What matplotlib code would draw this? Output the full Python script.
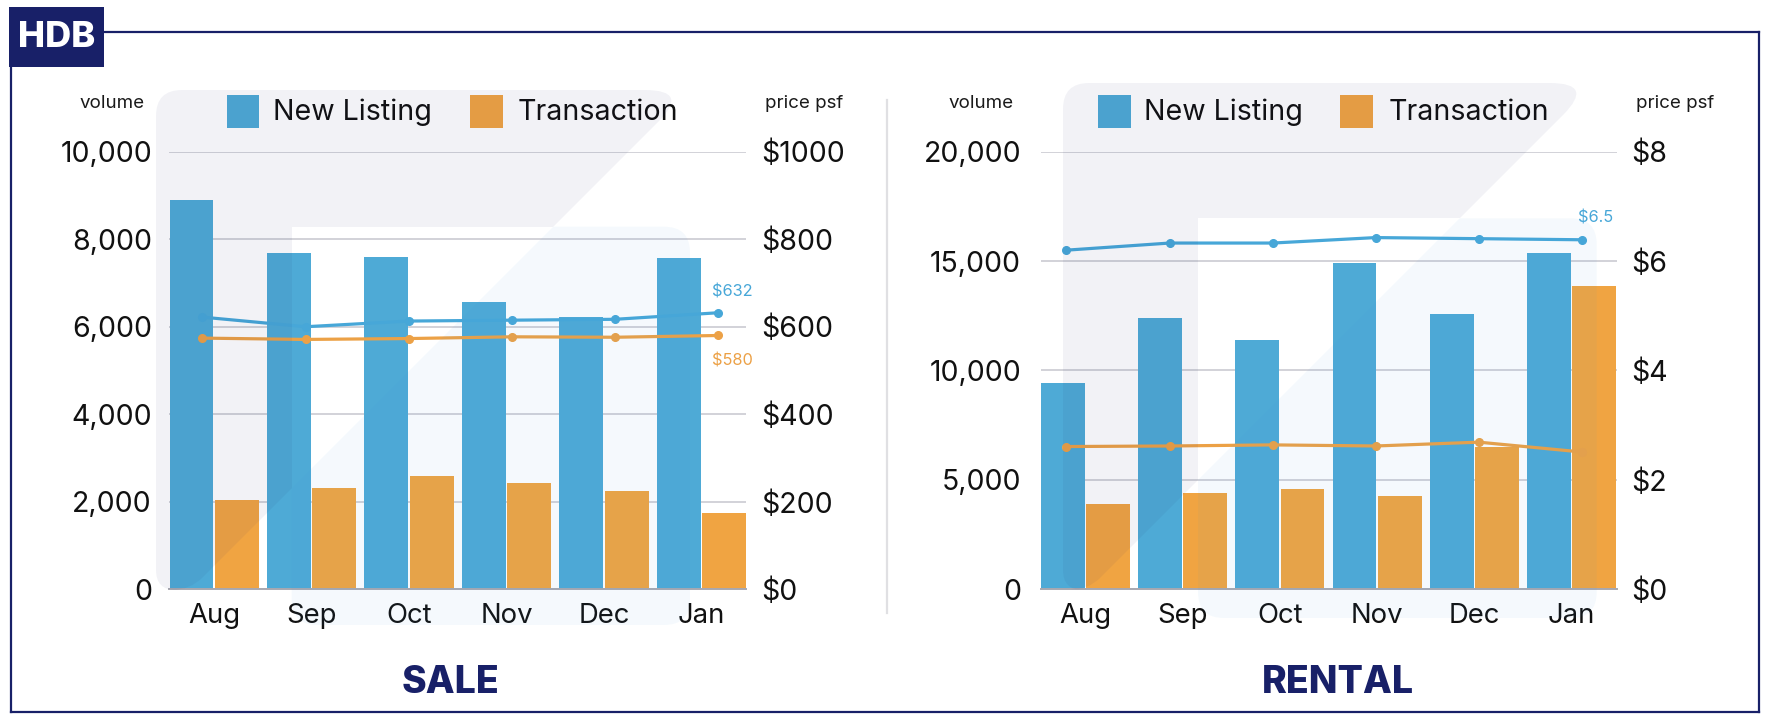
import numpy as np
import matplotlib
matplotlib.use("Agg")
import matplotlib.pyplot as plt
from matplotlib.patches import Rectangle, PathPatch, Polygon
from matplotlib.path import Path
from matplotlib.lines import Line2D

plt.rcParams['font.family'] = ['Inter', 'DejaVu Sans']

# ---------------- data ----------------
months = ["Aug", "Sep", "Oct", "Nov", "Dec", "Jan"]
legend_labels = ["New Listing", "Transaction"]
panel_titles = ["SALE", "RENTAL"]

sale_new_listing = [8900, 7690, 7590, 6560, 6220, 7560]
sale_transaction = [2050, 2320, 2600, 2420, 2240, 1740]
sale_listing_psf = [622, 600, 613, 615, 617, 632]
sale_transaction_psf = [574, 571, 573, 577, 576, 580]
sale_end_labels = ["$632", "$580"]

rental_new_listing = [9440, 12400, 11380, 14910, 12570, 15360]
rental_transaction = [3910, 4390, 4570, 4250, 6490, 13880]
rental_listing_psf = [6.20, 6.33, 6.33, 6.43, 6.41, 6.39]
rental_transaction_psf = [2.61, 2.62, 2.64, 2.62, 2.69, 2.51]
rental_end_labels = ["$6.5"]

sale_volume_ticks = [0, 2000, 4000, 6000, 8000, 10000]
sale_price_ticks = [0, 200, 400, 600, 800, 1000]
rental_volume_ticks = [0, 5000, 10000, 15000, 20000]
rental_price_ticks = [0, 2, 4, 6, 8]

# ---------------- style ----------------
W, H = 1768, 720
NAVY = "#182068"
BLUE = "#4EAAD6"
ORANGE = "#F0A442"
BLUE_LINE = "#47A7D8"
ORANGE_LINE = "#ECA146"
GRID = "#D2D2D8"
TICK_FS = 20.5
MONTH_FS = 19.8
LEGEND_FS = 20.6

fig = plt.figure(figsize=(W / 100, H / 100), dpi=100)
fig.patch.set_facecolor("white")


def fx(x):
    return x / W


def fy(y):
    return 1 - y / H


def rounded_path(pts, radii):
    verts, codes = [], []
    n = len(pts)
    for i in range(n):
        p = np.array(pts[i], float)
        a = np.array(pts[i - 1], float)
        b = np.array(pts[(i + 1) % n], float)
        da = (a - p) / np.linalg.norm(a - p)
        db = (b - p) / np.linalg.norm(b - p)
        p1 = p + da * radii[i]
        p2 = p + db * radii[i]
        verts.append(p1)
        codes.append(Path.MOVETO if i == 0 else Path.LINETO)
        verts += [p, p2]
        codes += [Path.CURVE3, Path.CURVE3]
    verts.append(verts[0])
    codes.append(Path.CLOSEPOLY)
    v = np.array([(fx(x), fy(y)) for x, y in verts])
    return Path(v, codes)


def rect_fig(x0, y0, x1, y1, **kw):
    return Rectangle((fx(x0), fy(y1)), (x1 - x0) / W, (y1 - y0) / H,
                     transform=fig.transFigure, **kw)


def watermark(A_pts, A_r, R, diag_c):
    # A: grey shape, R: light rect (x0, y0, x1, y1)
    x0, y0, x1, y1 = R
    A_path = rounded_path(A_pts, A_r)
    for clip in (rect_fig(0, 0, W, y0), rect_fig(0, y0, x0, H)):
        pp = PathPatch(A_path, transform=fig.transFigure, facecolor=NAVY,
                       edgecolor="none", alpha=0.055, zorder=20)
        pp.set_clip_path(clip)
        fig.add_artist(pp)
    R_path = rounded_path([(x0, y0), (x1, y0), (x1, y1), (x0, y1)], [26, 26, 26, 26])
    bottomA = max(p[1] for p in A_pts)
    cpoly = [(diag_c - (y0 - 40), y0 - 40), (W, y0 - 40), (W, H), (0, H),
             (0, bottomA), (diag_c - bottomA, bottomA)]
    cpatch = Polygon([(fx(x), fy(y)) for x, y in cpoly], closed=True,
                     transform=fig.transFigure)
    rp = PathPatch(R_path, transform=fig.transFigure, facecolor="#3C96DC",
                   edgecolor="none", alpha=0.05, zorder=20)
    rp.set_clip_path(cpatch)
    fig.add_artist(rp)


def panel(left, right, top, bottom, vol_new, vol_tr, p_new, p_tr,
          vol_ticks, price_ticks, price_fmt, line_xlim, lpad, rpad):
    rect = [fx(left), fy(bottom), (right - left) / W, (bottom - top) / H]
    ax = fig.add_axes(rect)
    x = np.arange(len(months))
    w = 0.45
    ax.bar(x - 0.2325, vol_new, w, color=BLUE, zorder=2)
    ax.bar(x + 0.2325, vol_tr, w, color=ORANGE, zorder=2)
    ax.set_xlim(-0.46, len(months) - 1 + 0.46)
    ax.set_ylim(0, vol_ticks[-1])
    ax.set_yticks(vol_ticks)
    ax.set_yticklabels([f"{v:,}" for v in vol_ticks])
    ax.set_xticks(x)
    ax.set_xticklabels(months)
    ax.tick_params(axis="y", length=0, labelsize=TICK_FS, pad=lpad, labelcolor="#111111")
    ax.tick_params(axis="x", length=0, labelsize=MONTH_FS, pad=10, labelcolor="#111111")
    for s in ("top", "right", "left"):
        ax.spines[s].set_visible(False)
    ax.spines["bottom"].set_color("#A8A8B0")
    ax.spines["bottom"].set_linewidth(1.4)
    ax.spines["bottom"].set_zorder(3)
    ax.grid(axis="y", color=GRID, lw=1.4)
    ax.set_axisbelow(True)
    ax.set_facecolor("none")

    axp = fig.add_axes(rect)
    axp.patch.set_visible(False)
    axp.plot(x, p_new, color=BLUE_LINE, lw=2.3, marker="o", ms=5.5, zorder=3)
    axp.plot(x, p_tr, color=ORANGE_LINE, lw=2.3, marker="o", ms=5.5, zorder=3)
    axp.set_xlim(*line_xlim)
    axp.set_ylim(0, price_ticks[-1])
    axp.yaxis.tick_right()
    axp.set_yticks(price_ticks)
    axp.set_yticklabels([price_fmt(v) for v in price_ticks])
    axp.tick_params(axis="y", length=0, labelsize=TICK_FS, pad=rpad, labelcolor="#111111")
    axp.set_xticks([])
    for s in axp.spines.values():
        s.set_visible(False)
    return ax, axp, x


# ---------------- SALE panel ----------------
ax1, axp1, x = panel(169.3, 746.2, 151.7, 589.3, sale_new_listing, sale_transaction,
                     sale_listing_psf, sale_transaction_psf,
                     sale_volume_ticks, sale_price_ticks, lambda v: f"${v}",
                     (-0.32, 5.27), 12.5, 10.5)
axp1.annotate(sale_end_labels[0], (x[-1], sale_listing_psf[-1]), xytext=(-4.3, 14.8),
              textcoords="offset points", ha="left", va="center", fontsize=11.8,
              color=BLUE_LINE)
axp1.annotate(sale_end_labels[1], (x[-1], sale_transaction_psf[-1]), xytext=(-4.3, -18.7),
              textcoords="offset points", ha="left", va="center", fontsize=11.8,
              color=ORANGE_LINE)

# ---------------- RENTAL panel ----------------
ax2, axp2, x = panel(1040.5, 1616.5, 151.7, 589.3, rental_new_listing, rental_transaction,
                     rental_listing_psf, rental_transaction_psf,
                     rental_volume_ticks, rental_price_ticks, lambda v: f"${v}",
                     (-0.252, 5.336), 14.0, 10.5)
axp2.annotate(rental_end_labels[0], (x[-1], rental_listing_psf[-1]), xytext=(-2.9, 15.8),
              textcoords="offset points", ha="left", va="center", fontsize=11.8,
              color=BLUE_LINE)

# ---------------- axis captions ----------------
for cx, t in ((112, "volume"), (804.5, "price psf"), (981.5, "volume"), (1675.5, "price psf")):
    fig.text(fx(cx), fy(104), t, ha="center", va="center", fontsize=13.5, color="#1A1A1A")

# ---------------- legends ----------------
for sq1, t1, sq2, t2 in ((227, 273, 469.5, 518), (1098, 1144, 1340, 1388.5)):
    fig.add_artist(rect_fig(sq1, 95, sq1 + 32.5, 128, facecolor=BLUE, edgecolor="none"))
    fig.add_artist(rect_fig(sq2, 95, sq2 + 33, 128, facecolor=ORANGE, edgecolor="none"))
    fig.text(fx(t1), fy(119.5), legend_labels[0], ha="left", va="baseline",
             fontsize=LEGEND_FS, color="#111111")
    fig.text(fx(t2), fy(119.5), legend_labels[1], ha="left", va="baseline",
             fontsize=LEGEND_FS, color="#111111")

# ---------------- panel titles ----------------
fig.text(fx(451), fy(683), panel_titles[0], ha="center", va="center", fontsize=27,
         fontweight="heavy", color=NAVY)
fig.text(fx(1338), fy(683), panel_titles[1], ha="center", va="center", fontsize=27,
         fontweight="heavy", color=NAVY)

# ---------------- separator ----------------
fig.add_artist(Line2D([fx(887), fx(887)], [fy(100), fy(613)], color="#E0E0E3",
                      lw=1.6, transform=fig.transFigure))

# ---------------- frame + HDB tag ----------------
frame_kw = dict(color=NAVY, lw=1.6, transform=fig.transFigure, solid_capstyle="projecting")
fig.add_artist(Line2D([fx(104), fx(1759)], [fy(31.7), fy(31.7)], **frame_kw))
fig.add_artist(Line2D([fx(1759), fx(1759)], [fy(31.7), fy(711.7)], **frame_kw))
fig.add_artist(Line2D([fx(10.8), fx(1759)], [fy(711.7), fy(711.7)], **frame_kw))
fig.add_artist(Line2D([fx(10.8), fx(10.8)], [fy(66), fy(711.7)], **frame_kw))
fig.add_artist(rect_fig(9.3, 7.3, 104, 66.7, facecolor=NAVY, edgecolor="none"))
fig.text(fx(56.7), fy(37.5), "HDB", ha="center", va="center", fontsize=26,
         fontweight="heavy", color="white")

# ---------------- watermarks ----------------
watermark([(156, 90), (690, 90), (190, 590), (156, 590)], [26, 45, 18, 20],
          (291.7, 226.7, 690, 625), 780)
watermark([(1063, 83), (1595, 83), (1088, 590), (1063, 590)], [26, 45, 18, 20],
          (1198, 218.3, 1596.7, 618), 1678)

fig.savefig("out.png", dpi=100)
